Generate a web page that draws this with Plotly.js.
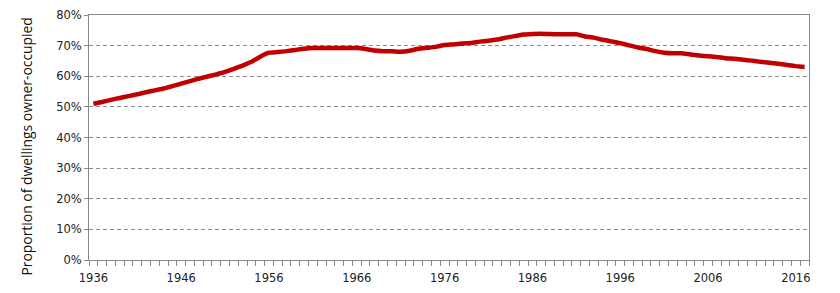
<!DOCTYPE html>
<html>
<head>
<meta charset="utf-8">
<script src="https://cdn.plot.ly/plotly-3.0.1.min.js"></script>
<style>html,body{margin:0;padding:0;background:#fff;}#chart{width:840px;height:293px;}</style>
</head>
<body>
<div id="chart"></div>
<script>
var years = [];
for (var y = 1936; y <= 2017; y++) years.push(y);

var ownerOccupied = [
  51.0, 51.6, 52.3, 52.9, 53.5, 54.1, 54.8, 55.4, 56.0, 56.8,
  57.6, 58.4, 59.2, 59.9, 60.6, 61.4, 62.4, 63.5, 64.7, 66.4,
  67.7, 67.9, 68.2, 68.6, 69.0, 69.2, 69.2, 69.2, 69.2, 69.2,
  69.2, 68.9, 68.4, 68.2, 68.2, 68.0, 68.3, 69.0, 69.3, 69.6,
  70.2, 70.4, 70.7, 70.9, 71.3, 71.6, 72.0, 72.6, 73.1, 73.6,
  73.8, 73.9, 73.8, 73.7, 73.7, 73.7, 73.0, 72.6, 71.9, 71.4,
  70.8, 70.1, 69.4, 68.9, 68.2, 67.7, 67.5, 67.5, 67.1, 66.8,
  66.5, 66.3, 65.9, 65.7, 65.4, 65.1, 64.7, 64.4, 64.1, 63.7,
  63.3, 63.0
];

var xTickVals = [1936, 1946, 1956, 1966, 1976, 1986, 1996, 2006, 2016];
var xTickText = ['1936', '1946', '1956', '1966', '1976', '1986', '1996', '2006', '2016'];
var yTickVals = [0, 10, 20, 30, 40, 50, 60, 70, 80];
var yTickText = ['0%', '10%', '20%', '30%', '40%', '50%', '60%', '70%', '80%'];
var yTitle = 'Proportion of dwellings owner-occupied';

var trace = {
  x: years,
  y: ownerOccupied,
  type: 'scatter',
  mode: 'lines',
  line: {color: '#C00000', width: 4.5, shape: 'spline', smoothing: 0.4},
  hoverinfo: 'x+y'
};

var axisFont = {family: 'DejaVu Sans, Verdana, sans-serif', size: 11.5, color: '#222'};

var layout = {
  width: 840, height: 293,
  margin: {l: 89, r: 31, t: 15, b: 33, pad: 0},
  paper_bgcolor: '#fff', plot_bgcolor: '#fff',
  showlegend: false,
  xaxis: {
    type: 'linear',
    range: [1935.5, 2017.5],
    tickmode: 'array', tickvals: xTickVals, ticktext: xTickText,
    ticks: '', showgrid: false, zeroline: false,
    showline: true, linecolor: '#888', linewidth: 1, mirror: true,
    tickfont: axisFont,
    ticklabelstandoff: 7,
    minor: {tickmode: 'linear', tick0: 1935.5, dtick: 1, ticks: 'outside', ticklen: 5, tickcolor: '#888', tickwidth: 1, showgrid: false}
  },
  yaxis: {
    range: [0, 80],
    tickmode: 'array', tickvals: yTickVals, ticktext: yTickText,
    ticks: 'outside', ticklen: 4, tickcolor: '#888',
    showgrid: true, gridcolor: '#8c8c8c', griddash: '4px,3px', gridwidth: 1,
    zeroline: false,
    showline: true, linecolor: '#888', linewidth: 1, mirror: true,
    tickfont: axisFont,
    automargin: false
  },
  annotations: [{
    text: yTitle,
    xref: 'paper', yref: 'paper',
    x: -0.0861, y: 0.463,
    xanchor: 'center', yanchor: 'middle',
    textangle: -90,
    showarrow: false,
    font: {family: 'Open Sans, DejaVu Sans, sans-serif', size: 13.9, color: '#111'}
  }]
};

Plotly.newPlot('chart', [trace], layout, {displayModeBar: false, staticPlot: true});
</script>
</body>
</html>
